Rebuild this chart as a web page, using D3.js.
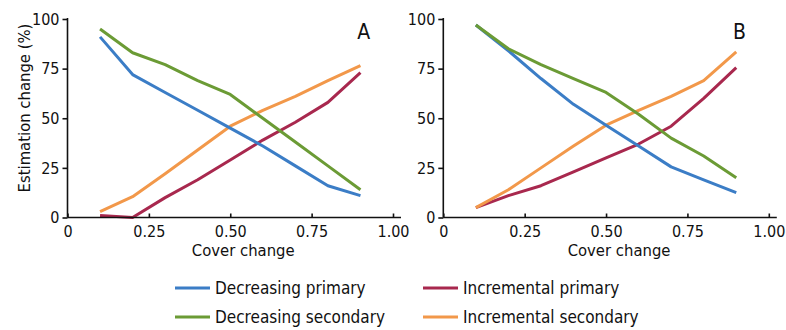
<!DOCTYPE html>
<html>
<head>
<meta charset="utf-8">
<script src="https://cdn.jsdelivr.net/npm/d3@7"></script>
<style>
  body { margin: 0; background: #fff; }
  text { font-family: "DejaVu Sans Condensed", "DejaVu Sans", sans-serif; fill: #111; }
</style>
</head>
<body>
<div id="chart"></div>
<script>
// cover change steps shared by both panels
var coverSteps = [0.1, 0.2, 0.3, 0.4, 0.5, 0.6, 0.7, 0.8, 0.9];

// panel A values (%)
var aDecPrimary = [91, 72, 63, 54, 45, 36, 26, 16, 11];
var aDecSecondary = [95, 83, 77, 69, 62, 50, 38, 26, 14];
var aIncPrimary = [1, 0, 10, 19, 29, 39, 48, 58, 73];
var aIncSecondary = [3, 10.5, 22, 34, 46, 54, 61, 69, 76.5];

// panel B values (%)
var bDecPrimary = [97, 84, 70, 57, 46.5, 36, 25.5, 19, 12.5];
var bDecSecondary = [97, 85, 77, 70, 63, 52, 40, 31, 20];
var bIncPrimary = [5, 11, 16, 23, 30, 37, 46, 60, 75.5];
var bIncSecondary = [5, 14, 25, 36, 46.5, 54, 61, 69, 83.5];

var seriesNames = ["Decreasing primary", "Incremental primary", "Decreasing secondary", "Incremental secondary"];
var seriesColors = ["#3b7dc6", "#a8284e", "#6b9b35", "#f2984a"];

var xTicks = [0, 0.25, 0.5, 0.75, 1];
var xTickLabels = ["0", "0.25", "0.50", "0.75", "1.00"];
var yTicks = [0, 25, 50, 75, 100];

var svg = d3.select("#chart").append("svg")
    .attr("width", 786)
    .attr("height", 330);

var panels = [
    {label: "A", left: 67.5, series: [aDecPrimary, aIncPrimary, aDecSecondary, aIncSecondary]},
    {label: "B", left: 443.3, series: [bDecPrimary, bIncPrimary, bDecSecondary, bIncSecondary]}
];

var plotW = 325.5, plotTop = 19, plotBottom = 217.5;

panels.forEach(function(p) {
    var x = d3.scaleLinear().domain([0, 1]).range([p.left, p.left + plotW]);
    var y = d3.scaleLinear().domain([0, 100]).range([plotBottom, plotTop]);

    var g = svg.append("g");

    var line = d3.line()
        .x(function(d, i) { return x(coverSteps[i]); })
        .y(function(d) { return y(d); });

    // increments first, decreasing drawn over them
    [1, 3, 0, 2].forEach(function(k) {
        g.append("path")
            .datum(p.series[k])
            .attr("fill", "none")
            .attr("stroke", seriesColors[k])
            .attr("stroke-width", 3)
            .attr("stroke-linejoin", "round")
            .attr("d", line);
    });

    // x axis, ticks pointing up into the plot
    var xAxis = g.append("g")
        .attr("transform", "translate(0," + plotBottom + ")")
        .call(d3.axisBottom(x).tickValues(xTicks)
            .tickFormat(function(d, i) { return xTickLabels[i]; })
            .tickSize(-4).tickPadding(8.5));
    xAxis.select(".domain").attr("d", "M" + p.left + ",0H" + (p.left + plotW + 8));

    // y axis
    var yAxis = g.append("g")
        .attr("transform", "translate(" + p.left + ",0)")
        .call(d3.axisLeft(y).tickValues(yTicks).tickSize(5).tickPadding(3));
    yAxis.select(".domain").attr("d", "M0," + (plotTop - 1) + "V" + plotBottom);

    [xAxis, yAxis].forEach(function(a) {
        a.selectAll("path, line").attr("stroke", "#111").attr("stroke-width", 1.6);
        a.selectAll("text").attr("font-size", 16).attr("fill", "#111")
            .attr("font-family", "DejaVu Sans Condensed, DejaVu Sans, sans-serif");
    });

    g.append("text")
        .attr("x", x(0.54))
        .attr("y", 256)
        .attr("text-anchor", "middle")
        .attr("font-size", 16.5)
        .text("Cover change");

    g.append("text")
        .attr("x", x(0.91))
        .attr("y", 39)
        .attr("text-anchor", "middle")
        .attr("font-size", 21)
        .text(p.label);
});

svg.append("text")
    .attr("transform", "translate(30,108) rotate(-90)")
    .attr("text-anchor", "middle")
    .attr("font-size", 16.5)
    .text("Estimation change (%)");

// legend, two columns
var legendPos = [[175, 288], [423, 288], [175, 317], [423, 317]];
seriesNames.forEach(function(name, k) {
    var lg = svg.append("g").attr("transform", "translate(" + legendPos[k][0] + "," + legendPos[k][1] + ")");
    lg.append("line").attr("x1", 0).attr("x2", 35).attr("y1", 0).attr("y2", 0)
        .attr("stroke", seriesColors[k]).attr("stroke-width", 3);
    lg.append("text").attr("x", 40).attr("y", 6).attr("font-size", 17).text(name);
});
</script>
</body>
</html>
